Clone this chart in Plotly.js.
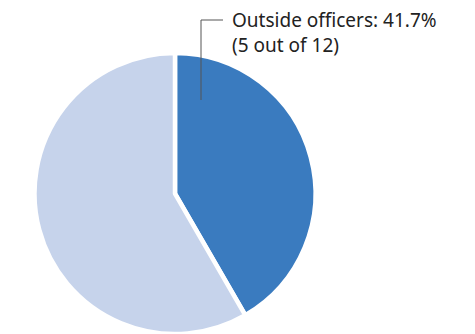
<!DOCTYPE html>
<html>
<head>
<meta charset="utf-8">
<script src="https://cdn.plot.ly/plotly-3.0.1.min.js"></script>
<style>html,body{margin:0;padding:0;background:#fff;}#chart{width:475px;height:334px;}</style>
</head>
<body>
<div id="chart"></div>
<script>
const labels = ["Outside officers", "Inside officers"];
const counts = [5, 7];
const colors = ["#3a7bbf", "#c6d3eb"];
const labelLines = ["Outside officers: 41.7%", "(5 out of 12)"];

const W = 475, H = 334;
const px = x => x / W;
const py = y => 1 - y / H;

const data = [{
  type: "pie",
  labels: labels,
  values: counts,
  sort: false,
  direction: "clockwise",
  rotation: 0,
  textinfo: "none",
  hoverinfo: "label+percent",
  marker: { colors: colors, line: { color: "#ffffff", width: 4.5 } },
  domain: { x: [px(34), px(316)], y: [0, py(53)] },
  showlegend: false
}];

const layout = {
  width: W, height: H,
  margin: { l: 0, r: 0, t: 0, b: 0 },
  paper_bgcolor: "#ffffff",
  showlegend: false,
  shapes: [
    { type: "line", xref: "paper", yref: "paper", x0: px(201), x1: px(201), y0: py(100), y1: py(20), line: { color: "#555555", width: 1 } },
    { type: "line", xref: "paper", yref: "paper", x0: px(201), x1: px(223), y0: py(20), y1: py(20), line: { color: "#555555", width: 1 } }
  ],
  annotations: [{
    xref: "paper", yref: "paper",
    x: px(230), y: py(5),
    xanchor: "left", yanchor: "top",
    align: "left",
    showarrow: false,
    text: labelLines.join("<br>"),
    font: { family: "Noto Sans, sans-serif", size: 19, color: "#222222" }
  }]
};

Plotly.newPlot("chart", data, layout, { displayModeBar: false, staticPlot: true });
</script>
</body>
</html>
